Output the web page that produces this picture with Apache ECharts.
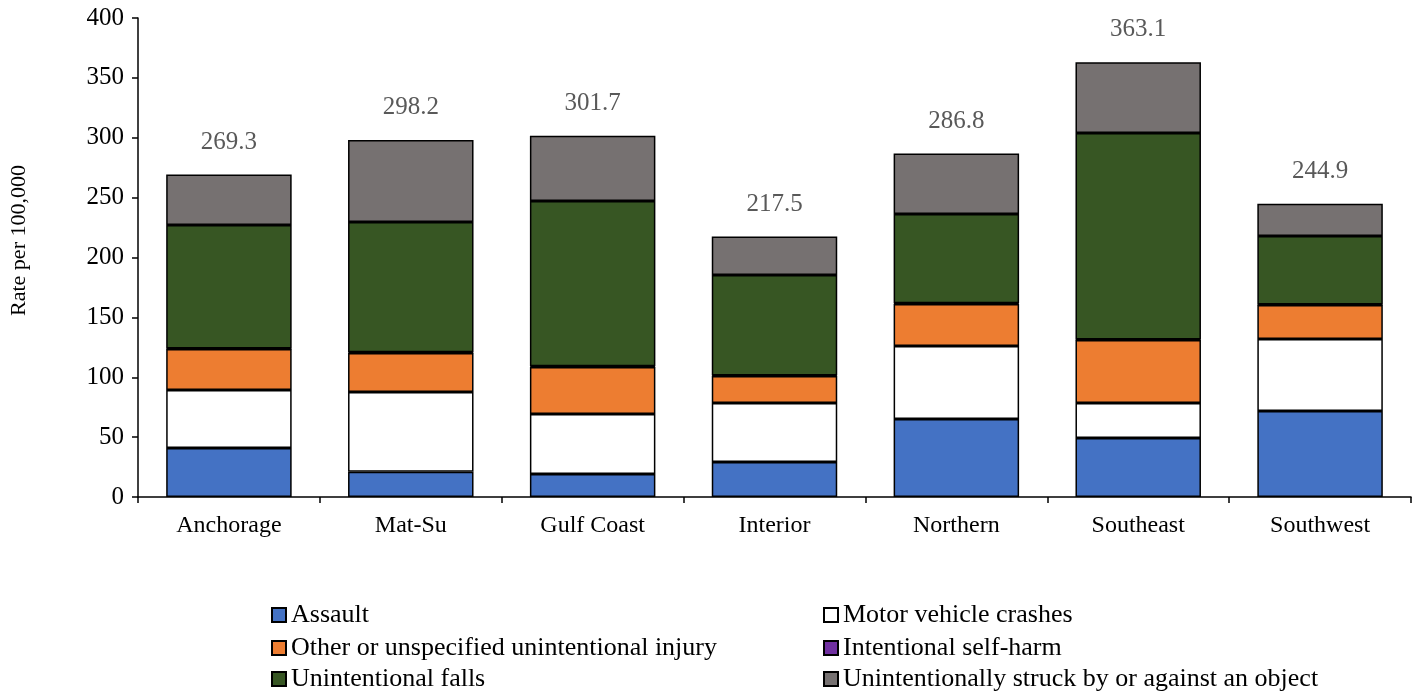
<!DOCTYPE html>
<html>
<head>
<meta charset="utf-8">
<script src="https://cdn.jsdelivr.net/npm/echarts@6/dist/echarts.min.js"></script>
<style>
  html, body { margin: 0; padding: 0; background: #fff; }
  #chart { width: 1420px; height: 692px; }
</style>
</head>
<body>
<div id="chart"></div>
<script>
const regions = ['Anchorage', 'Mat-Su', 'Gulf Coast', 'Interior', 'Northern', 'Southeast', 'Southwest']
const assault = [41.0, 21.0, 19.2, 29.2, 65.1, 49.3, 71.8]
const motorVehicle = [48.4, 66.7, 50.1, 49.3, 61.0, 29.2, 60.1]
const otherInjury = [34.2, 32.6, 39.3, 22.5, 35.1, 52.6, 28.4]
const selfHarm = [0.5, 0.5, 0.5, 0.5, 0.5, 0.5, 0.5]
const falls = [103.0, 108.8, 138.1, 83.9, 74.6, 172.4, 57.2]
const struck = [42.2, 68.6, 54.5, 32.1, 50.5, 59.1, 26.9]
const totals = [269.3, 298.2, 301.7, 217.5, 286.8, 363.1, 244.9]

const font = '"Liberation Serif", "Times New Roman", serif'

const chart = echarts.init(document.getElementById('chart'))

const seriesDefs = [
  { name: 'Assault', data: assault, color: '#4472C4' },
  { name: 'Motor vehicle crashes', data: motorVehicle, color: '#FFFFFF' },
  { name: 'Other or unspecified unintentional injury', data: otherInjury, color: '#ED7D31' },
  { name: 'Intentional self-harm', data: selfHarm, color: '#7030A0' },
  { name: 'Unintentional falls', data: falls, color: '#375623' },
  { name: 'Unintentionally struck by or against an object', data: struck, color: '#767171' }
]

const series = seriesDefs.map((s, idx) => ({
  name: s.name,
  type: 'bar',
  stack: 'total',
  barWidth: '69%',
  data: s.data,
  itemStyle: { color: s.color, borderColor: '#000', borderWidth: 1.5 },
  label: idx === seriesDefs.length - 1 ? {
    show: true,
    position: 'top',
    distance: 20,
    color: '#595959',
    fontFamily: font,
    fontSize: 25,
    formatter: (p) => totals[p.dataIndex].toFixed(1)
  } : { show: false }
}))

// legend laid out as two columns of three rows, one component per item
const legendSlots = [
  [266, 597], [818, 597],
  [266, 630], [818, 630],
  [266, 661], [818, 661]
]
const legend = seriesDefs.map((s, idx) => ({
  left: legendSlots[idx][0],
  top: legendSlots[idx][1],
  itemWidth: 14,
  itemHeight: 14,
  icon: 'rect',
  selectedMode: false,
  textStyle: { color: '#000', fontFamily: font, fontSize: 26 },
  data: [s.name]
}))

chart.setOption({
  animation: false,
  grid: { left: 137, right: 9, top: 18, bottom: 195 },
  legend,
  xAxis: {
    type: 'category',
    data: regions,
    axisLine: { lineStyle: { color: '#000', width: 1.5 } },
    axisTick: { show: true, length: 6, lineStyle: { color: '#000', width: 1.5 } },
    axisLabel: { color: '#000', fontFamily: font, fontSize: 24, margin: 17 }
  },
  yAxis: {
    type: 'value',
    min: 0,
    max: 400,
    interval: 50,
    name: 'Rate per 100,000',
    nameLocation: 'middle',
    nameGap: 108,
    nameTextStyle: { color: '#000', fontFamily: font, fontSize: 22, padding: [0, 0, 0, 34] },
    axisLine: { show: true, lineStyle: { color: '#000', width: 1.5 } },
    axisTick: { show: true, length: 6, lineStyle: { color: '#000', width: 1.5 } },
    splitLine: { show: false },
    axisLabel: { color: '#000', fontFamily: font, fontSize: 25, margin: 14 }
  },
  series
})
</script>
</body>
</html>
